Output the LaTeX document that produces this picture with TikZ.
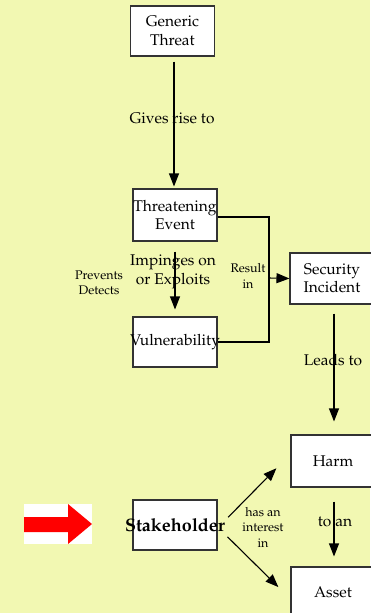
\documentclass[tikz,border=0pt]{standalone}
\usepackage[T1]{fontenc}
\usepackage{palatino}
\usetikzlibrary{arrows.meta,positioning}
\definecolor{paleyellow}{RGB}{242,248,178}

\begin{document}
\begin{tikzpicture}[x=1pt,y=-1pt,
    box/.style={draw=black!80, line width=1.1pt, fill=white, minimum width=84pt, minimum height=50pt, inner sep=0pt},
    big/.style={font=\fontsize{15.5}{18.5}\selectfont, align=center},
    small/.style={font=\fontsize{12.5}{15.5}\selectfont, align=center},
    conn/.style={line width=1.1pt, -{Triangle[length=13pt,width=10pt]}},
    wire/.style={line width=1.1pt}]
    % Background and page size
    \fill[paleyellow] (0,0) rectangle (370,613);
    \useasboundingbox (0,0) rectangle (370,613);
    % Boxes (text as centre labels so the box keeps its size)
    \node[box, label={[big]center:Generic\\Threat}] (gen) at (172.5,31) {};
    \node[box, minimum height=52pt, label={[big]center:Threatening\\Event}] (te) at (175,215) {};
    \node[box, label={[big]center:Vulnerability}] (vul) at (175,342) {};
    \node[box, minimum height=51pt, label={[big]center:Security\\Incident}] (sec) at (332,278.5) {};
    \node[box, minimum height=52pt, label={[big]center:Harm}] (harm) at (333,461) {};
    \node[box, label={[big]center:Asset}] (asset) at (333,592) {};
    \node[box, label={[big, font=\fontsize{18}{21}\selectfont\bfseries]center:Stakeholder}] (stake) at (175,525) {};
    % Vertical connectors
    \draw[conn, shorten <=5pt, shorten >=2pt] (gen.south -| 174,0) -- (te.north -| 174,0);
    \draw[conn, shorten <=10pt, shorten >=7pt] (te) -- (vul);
    \draw[conn, shorten <=9pt, shorten >=13pt] (sec.south -| 334,0) -- (harm.north -| 334,0);
    \draw[conn, shorten <=14pt, shorten >=10pt] (harm.south -| 334,0) -- (asset.north -| 334,0);
    % Threatening event and vulnerability both result in an incident
    \coordinate (join) at (269,278);
    \draw[wire] (te.east |- 0,217) -| (join) |- (vul.east);
    \draw[conn] (join) -- (sec.west);
    % Stakeholder interest
    \draw[conn, shorten <=15pt, shorten >=20pt] ([yshift=-3pt]stake.east) -- ([yshift=7pt]harm.west);
    \draw[conn, shorten <=14pt, shorten >=17pt] ([yshift=-2pt]stake.east) -- ([yshift=-7pt]asset.west);
    % Connector labels
    \node[big] (lgive) at (172,118) {Gives rise to};
    \node[big] (limp) at (173,272) {Impinges on\\or Exploits};
    \node[small] (lprev) at (99,283) {Prevents\\Detects};
    \node[small] (lres) at (248,276) {Result\\in};
    \node[big] (llead) at (333,360) {Leads to};
    \node[big] (lto) at (335,522) {to an};
    \node[small] (lint) at (263,527) {has an\\interest\\in};
    % Red pointer
    \fill[white] (24,504) rectangle (92,544);
    \fill[red] (24,517) -- (68,517) -- (68,504) -- (92,524) -- (68,544) -- (68,532) -- (24,532) -- cycle;
\end{tikzpicture}
\end{document}
